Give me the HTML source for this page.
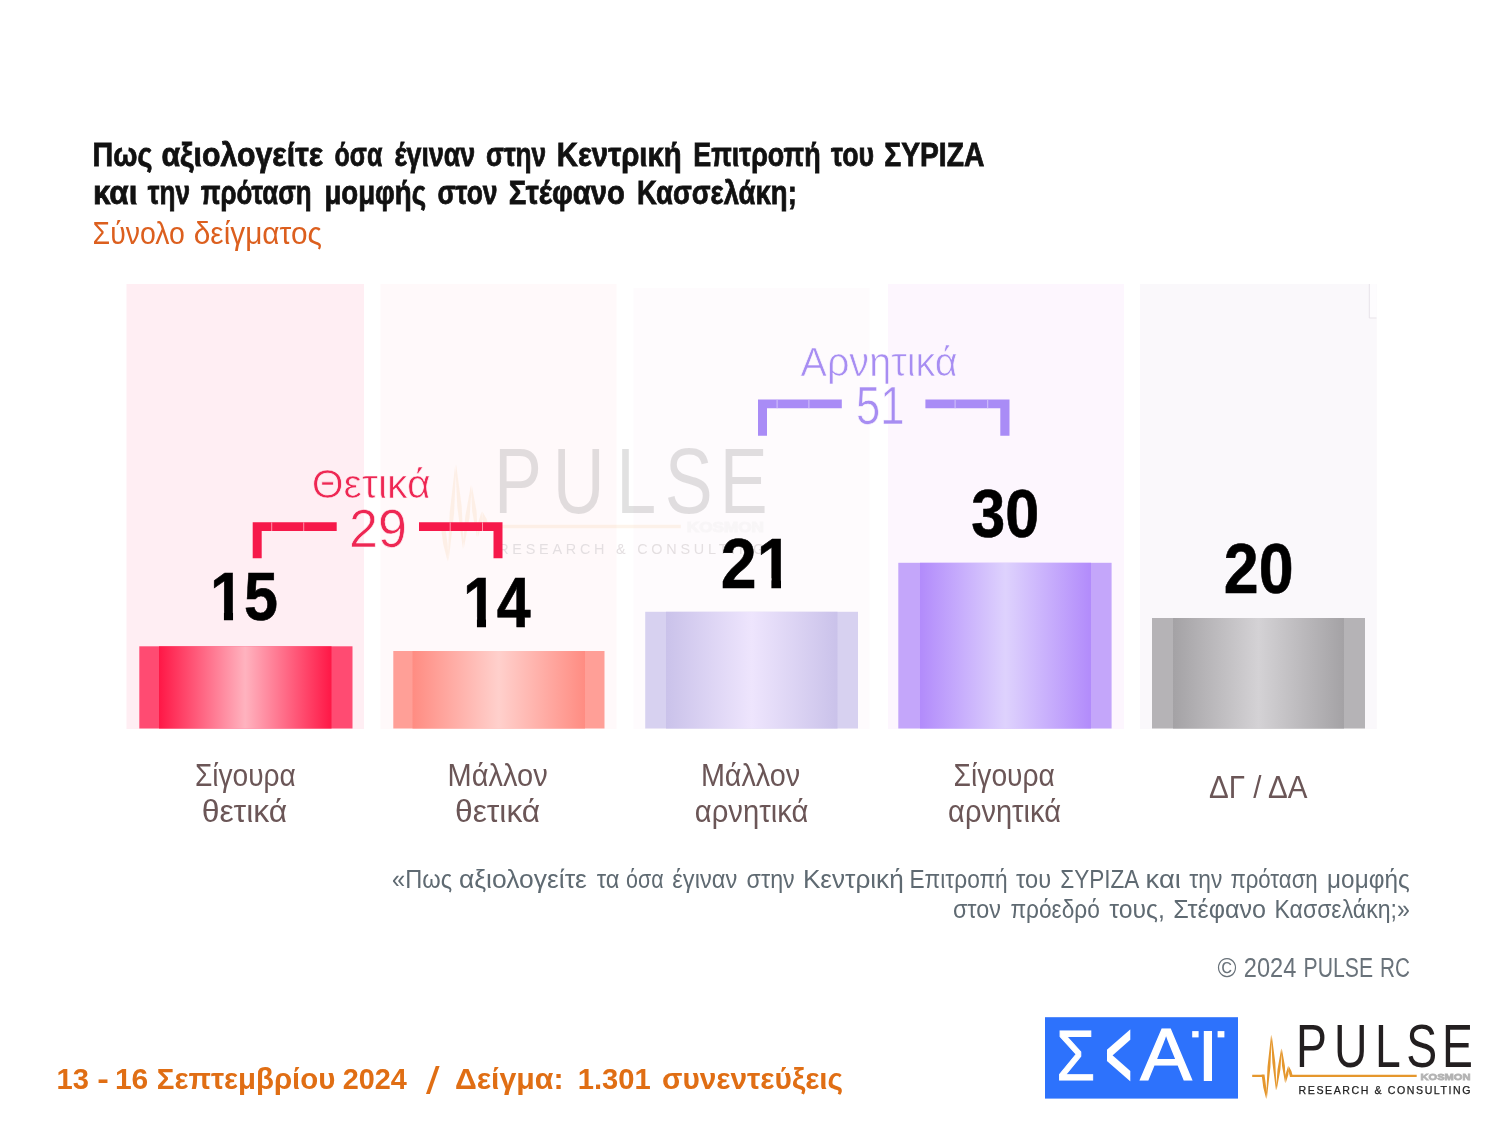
<!DOCTYPE html>
<html lang="el">
<head>
<meta charset="utf-8">
<title>PULSE RC – ΣΚΑΪ</title>
<style>
  html,body{margin:0;padding:0;background:#fff;}
  body{width:1500px;height:1125px;overflow:hidden;position:relative;}
  svg{position:absolute;left:0;top:0;display:block;}
  text{font-family:"Liberation Sans",sans-serif;}
</style>
</head>
<body>
<svg width="1500" height="1125" viewBox="0 0 1500 1125">
  <defs>
    <linearGradient id="g1" x1="0" x2="1" y1="0" y2="0">
      <stop offset="0" stop-color="#ff1746"/>
      <stop offset="0.5" stop-color="#ffb3bf"/>
      <stop offset="1" stop-color="#ff1746"/>
    </linearGradient>
    <linearGradient id="g2" x1="0" x2="1" y1="0" y2="0">
      <stop offset="0" stop-color="#ff8c82"/>
      <stop offset="0.5" stop-color="#ffd0cc"/>
      <stop offset="1" stop-color="#ff8c82"/>
    </linearGradient>
    <linearGradient id="g3" x1="0" x2="1" y1="0" y2="0">
      <stop offset="0" stop-color="#cac2ea"/>
      <stop offset="0.5" stop-color="#eee5fd"/>
      <stop offset="1" stop-color="#cac2ea"/>
    </linearGradient>
    <linearGradient id="g4" x1="0" x2="1" y1="0" y2="0">
      <stop offset="0" stop-color="#b28bfb"/>
      <stop offset="0.5" stop-color="#ded2fd"/>
      <stop offset="1" stop-color="#b28bfb"/>
    </linearGradient>
    <linearGradient id="g5" x1="0" x2="1" y1="0" y2="0">
      <stop offset="0" stop-color="#a4a2a5"/>
      <stop offset="0.5" stop-color="#d4d2d5"/>
      <stop offset="1" stop-color="#a4a2a5"/>
    </linearGradient>
  </defs>

  <!-- background panels -->
  <g id="panels">
    <rect x="126.5" y="284" width="237.5" height="445" fill="#ffeef3"/>
    <rect x="380.5" y="284" width="236" height="445" fill="#fff9fa"/>
    <rect x="633.5" y="288" width="236" height="441" fill="#fefbfd"/>
    <rect x="888" y="284" width="236" height="445" fill="#fdf6fe"/>
    <rect x="1140" y="284" width="236.8" height="445" fill="#faf8fb"/>
    <path d="M1369.3 284V318H1376.8V284Z" fill="#fdfcfe"/>
    <path d="M1369.3 284V318H1376.5" fill="none" stroke="#e7e3e9" stroke-width="1"/>
  </g>

  <!-- bars -->
  <g id="bars">
    <rect x="139.3" y="646.3" width="213.2" height="82.2" fill="#ff4b72"/>
    <rect x="159" y="646.3" width="172.5" height="82.2" fill="url(#g1)"/>
    <rect x="393.3" y="651" width="211.2" height="77.5" fill="#ff9f97"/>
    <rect x="412.5" y="651" width="172.5" height="77.5" fill="url(#g2)"/>
    <rect x="645.2" y="611.8" width="212.8" height="116.7" fill="#d7d1f0"/>
    <rect x="666" y="611.8" width="171.5" height="116.7" fill="url(#g3)"/>
    <rect x="898.3" y="562.8" width="213.3" height="165.7" fill="#c4a6fa"/>
    <rect x="920" y="562.8" width="171" height="165.7" fill="url(#g4)"/>
    <rect x="1152" y="618" width="213" height="110.5" fill="#b5b3b6"/>
    <rect x="1173" y="618" width="171" height="110.5" fill="url(#g5)"/>
  </g>

  <!-- watermark -->
  <g id="wm" opacity="0.13" transform="translate(-1513.7 -1103.4) scale(1.549 1.515)">
    <path d="M1261.6 1074.6L1264.5 1074.6L1266.2 1087.4L1266.8 1099.0L1266.2 1099.0L1263.3 1087.4ZM1266.2 1099.0L1266.8 1099.0L1270.4 1066.9L1271.7 1034.8L1271.1 1034.8L1267.5 1066.9ZM1271.1 1034.8L1271.7 1034.8L1275.3 1062.7L1276.6 1090.6L1276.0 1090.6L1272.4 1062.7ZM1276.0 1090.6L1276.6 1090.6L1280.4 1069.6L1281.8 1048.6L1281.2 1048.6L1277.5 1069.6ZM1281.2 1048.6L1281.8 1048.6L1284.9 1065.8L1285.7 1083.0L1285.1 1083.0L1282.0 1065.8ZM1285.1 1083.0L1285.7 1083.0L1288.4 1074.5L1288.7 1066.0L1288.1 1066.0L1285.5 1074.5ZM1288.1 1066.0L1288.7 1066.0L1291.4 1070.9L1293.0 1077.0L1290.0 1077.0L1288.5 1070.9ZM1252.2 1074.65H1264.4V1076.95H1252.2ZM1290.2 1074.65H1416.7V1076.95H1290.2Z" fill="#f2b36a"/>
    <text transform="scale(0.76,1)" x="1705.4 1755.4 1809.2 1850.4 1897.3" y="1066.7" font-size="61.0" fill="#231f20">PULSE</text>
    <text x="1420.6" y="1079.6" font-size="9.38" font-weight="700" fill="#d6d6d6" textLength="49.8" lengthAdjust="spacingAndGlyphs" stroke="#d6d6d6" stroke-width="0.8">KOSMON</text>
    
  </g>
  <text x="498.2" y="553.5" font-size="14.4" fill="#e4dfe1" textLength="266.1" lengthAdjust="spacing">RESEARCH &amp; CONSULTING</text>

  <!-- title -->
  <g id="title">
    <text y="166.0" font-size="33.3" font-weight="700" fill="#111" stroke="#111" stroke-width="0.8"><tspan x="92.6" textLength="59.8" lengthAdjust="spacingAndGlyphs">Πως</tspan> <tspan x="161.4" textLength="161.7" lengthAdjust="spacingAndGlyphs">αξιολογείτε</tspan> <tspan x="334.6" textLength="47.7" lengthAdjust="spacingAndGlyphs">όσα</tspan> <tspan x="394.5" textLength="80.6" lengthAdjust="spacingAndGlyphs">έγιναν</tspan> <tspan x="486.0" textLength="60.2" lengthAdjust="spacingAndGlyphs">στην</tspan> <tspan x="556.8" textLength="124.9" lengthAdjust="spacingAndGlyphs">Κεντρική</tspan> <tspan x="693.2" textLength="127.4" lengthAdjust="spacingAndGlyphs">Επιτροπή</tspan> <tspan x="831.1" textLength="43.0" lengthAdjust="spacingAndGlyphs">του</tspan> <tspan x="884.2" textLength="100.2" lengthAdjust="spacingAndGlyphs">ΣΥΡΙΖΑ</tspan></text>
    <text y="203.7" font-size="33.3" font-weight="700" fill="#111" stroke="#111" stroke-width="0.8"><tspan x="92.9" textLength="44.5" lengthAdjust="spacingAndGlyphs">και</tspan> <tspan x="147.8" textLength="42.1" lengthAdjust="spacingAndGlyphs">την</tspan> <tspan x="200.7" textLength="110.9" lengthAdjust="spacingAndGlyphs">πρόταση</tspan> <tspan x="324.4" textLength="101.7" lengthAdjust="spacingAndGlyphs">μομφής</tspan> <tspan x="437.5" textLength="60.0" lengthAdjust="spacingAndGlyphs">στον</tspan> <tspan x="508.7" textLength="116.2" lengthAdjust="spacingAndGlyphs">Στέφανο</tspan> <tspan x="636.9" textLength="159.9" lengthAdjust="spacingAndGlyphs">Κασσελάκη;</tspan></text>
    <text y="243.5" font-size="31" fill="#dc5f1e"><tspan x="92.6" textLength="92.3" lengthAdjust="spacingAndGlyphs">Σύνολο</tspan> <tspan x="193.8" textLength="128.0" lengthAdjust="spacingAndGlyphs">δείγματος</tspan></text>
  </g>

  <!-- value labels -->
  <g id="values">
    <text x="210.1" y="620.15" font-size="69.43" font-weight="700" fill="#000" textLength="67.9" lengthAdjust="spacingAndGlyphs" stroke="#000" stroke-width="0.6">15</text>
    <text x="462.9" y="626.7" font-size="70.94" font-weight="700" fill="#000" textLength="67.7" lengthAdjust="spacingAndGlyphs" stroke="#000" stroke-width="0.6">14</text>
    <text x="720.8" y="587.7" font-size="70.14" font-weight="700" fill="#000" textLength="71.7" lengthAdjust="spacingAndGlyphs" stroke="#000" stroke-width="0.6">21</text>
    <text x="971.2" y="536.95" font-size="69.09" font-weight="700" fill="#000" textLength="68.0" lengthAdjust="spacingAndGlyphs" stroke="#000" stroke-width="0.6">30</text>
    <text x="1223.8" y="593.25" font-size="69.93" font-weight="700" fill="#000" textLength="69.7" lengthAdjust="spacingAndGlyphs" stroke="#000" stroke-width="0.6">20</text>
  </g>

  <g id="digit-trim">
    <path id="nofoot0" d="M212.5 610.8H223.93V621.6H212.5ZM233.04 610.8H244.5V621.6H233.04Z" fill="#ffeef3"/>
    <path id="nofoot1" d="M465.5 617.1H476.94V628.2H465.5ZM486.02 617.1H496.5V628.2H486.02Z" fill="#fff9fa"/>
    <path id="nofoot2" d="M759.5 578.2H771.40V589.2H759.5ZM781.01 578.2H792.5V589.2H781.01Z" fill="#fefbfd"/>
  </g>

  <!-- group brackets -->
  <g id="pos" fill="#f6194a">
    <path d="M252.7 558.3V522.3H336.7V531H261.7V558.3Z"/>
    <path d="M502.5 558.3V522.3H419V531H493.5V558.3Z"/>
    <path d="M271.2 522.3h1v8.7h-1zM303.2 522.3h1v8.7h-1zM449.7 522.3h1v8.7h-1zM482 522.3h1v8.7h-1z" fill="#ff8fa8"/>
    <text x="311.7" y="498.3" font-size="40.5" fill="#ee2753" textLength="118.9" lengthAdjust="spacingAndGlyphs" stroke="#fff3f6" stroke-width="0.7">Θετικά</text>
    <text x="349.1" y="546.8" font-size="53.85" fill="#ee2753" textLength="57.8" lengthAdjust="spacingAndGlyphs" stroke="#fff3f6" stroke-width="0.7">29</text>
  </g>
  <g id="neg" fill="#a98cf6">
    <path d="M758 435.7V399.5H841.8V408.2H767V435.7Z"/>
    <path d="M1009.5 435.7V399.5H925.4V408.2H1000.3V435.7Z"/>
    <path d="M776.6 399.5h1v8.7h-1zM808.4 399.5h1v8.7h-1zM954.6 399.5h1v8.7h-1zM987.2 399.5h1v8.7h-1z" fill="#d3c4fb"/>
    <text x="800.5" y="376.0" font-size="40.5" fill="#a78df2" textLength="157.2" lengthAdjust="spacingAndGlyphs" stroke="#fdf9fe" stroke-width="0.7">Αρνητικά</text>
    <text x="856.1" y="424.0" font-size="53.57" fill="#a78df2" textLength="48.5" lengthAdjust="spacingAndGlyphs" stroke="#fdf9fe" stroke-width="0.7">51</text>
  </g>

  <!-- category labels -->
  <g id="cats">
    <text font-size="30.5" fill="#6b5657"><tspan x="194.9" y="785.6" textLength="101.0" lengthAdjust="spacingAndGlyphs">Σίγουρα</tspan> <tspan x="201.7" y="822.3" textLength="85.5" lengthAdjust="spacingAndGlyphs">θετικά</tspan></text>
    <text font-size="30.5" fill="#6b5657"><tspan x="447.6" y="785.6" textLength="100.1" lengthAdjust="spacingAndGlyphs">Μάλλον</tspan> <tspan x="455.1" y="822.3" textLength="85.1" lengthAdjust="spacingAndGlyphs">θετικά</tspan></text>
    <text font-size="30.5" fill="#6b5657"><tspan x="700.9" y="785.6" textLength="99.3" lengthAdjust="spacingAndGlyphs">Μάλλον</tspan> <tspan x="694.8" y="822.3" textLength="113.5" lengthAdjust="spacingAndGlyphs">αρνητικά</tspan></text>
    <text font-size="30.5" fill="#6b5657"><tspan x="953.6" y="785.6" textLength="101.3" lengthAdjust="spacingAndGlyphs">Σίγουρα</tspan> <tspan x="948.1" y="822.3" textLength="112.9" lengthAdjust="spacingAndGlyphs">αρνητικά</tspan></text>
    <text x="1209.1" y="797.5" font-size="31.5" fill="#6b5657" textLength="98.4" lengthAdjust="spacingAndGlyphs">ΔΓ / ΔΑ</text>
  </g>

  <!-- footnote -->
  <g id="note">
    <text y="887.5" font-size="25" fill="#5f6a72"><tspan x="392.1" textLength="60.0" lengthAdjust="spacingAndGlyphs">«Πως</tspan> <tspan x="458.9" textLength="128.0" lengthAdjust="spacingAndGlyphs">αξιολογείτε</tspan> <tspan x="596.8" textLength="22.7" lengthAdjust="spacingAndGlyphs">τα</tspan> <tspan x="626.1" textLength="37.5" lengthAdjust="spacingAndGlyphs">όσα</tspan> <tspan x="672.3" textLength="64.9" lengthAdjust="spacingAndGlyphs">έγιναν</tspan> <tspan x="746.6" textLength="48.1" lengthAdjust="spacingAndGlyphs">στην</tspan> <tspan x="802.9" textLength="100.8" lengthAdjust="spacingAndGlyphs">Κεντρική</tspan> <tspan x="909.5" textLength="98.2" lengthAdjust="spacingAndGlyphs">Επιτροπή</tspan> <tspan x="1016.1" textLength="35.0" lengthAdjust="spacingAndGlyphs">του</tspan> <tspan x="1060.2" textLength="78.0" lengthAdjust="spacingAndGlyphs">ΣΥΡΙΖΑ</tspan> <tspan x="1145.6" textLength="35.2" lengthAdjust="spacingAndGlyphs">και</tspan> <tspan x="1189.3" textLength="33.0" lengthAdjust="spacingAndGlyphs">την</tspan> <tspan x="1230.4" textLength="87.3" lengthAdjust="spacingAndGlyphs">πρόταση</tspan> <tspan x="1327.1" textLength="82.6" lengthAdjust="spacingAndGlyphs">μομφής</tspan></text>
    <text y="917.6" font-size="25" fill="#5f6a72"><tspan x="952.9" textLength="47.9" lengthAdjust="spacingAndGlyphs">στον</tspan> <tspan x="1010.4" textLength="89.4" lengthAdjust="spacingAndGlyphs">πρόεδρό</tspan> <tspan x="1109.2" textLength="55.6" lengthAdjust="spacingAndGlyphs">τους,</tspan> <tspan x="1173.2" textLength="92.9" lengthAdjust="spacingAndGlyphs">Στέφανο</tspan> <tspan x="1274.5" textLength="135.2" lengthAdjust="spacingAndGlyphs">Κασσελάκη;»</tspan></text>
    <text y="977" font-size="27" fill="#69727a"><tspan x="1217.4" textLength="19.0" lengthAdjust="spacingAndGlyphs">©</tspan> <tspan x="1243.8" textLength="52.5" lengthAdjust="spacingAndGlyphs">2024</tspan> <tspan x="1303.6" textLength="69.4" lengthAdjust="spacingAndGlyphs">PULSE</tspan> <tspan x="1380.0" textLength="29.9" lengthAdjust="spacingAndGlyphs">RC</tspan></text>
  </g>

  <!-- footer -->
  <g id="footer">
    <text font-size="29.4" font-weight="700" fill="#e06e14"><tspan x="56.6" y="1088.5" textLength="32.4" lengthAdjust="spacingAndGlyphs">13</tspan> <tspan x="97.2" y="1088.5" textLength="11.6" lengthAdjust="spacingAndGlyphs">-</tspan> <tspan x="114.9" y="1088.5" textLength="33.4" lengthAdjust="spacingAndGlyphs">16</tspan> <tspan x="156.8" y="1088.5" textLength="178.5" lengthAdjust="spacingAndGlyphs">Σεπτεμβρίου</tspan> <tspan x="342.8" y="1088.5" textLength="64.1" lengthAdjust="spacingAndGlyphs">2024</tspan> <tspan x="426.0" y="1093.5" textLength="13.6" lengthAdjust="spacingAndGlyphs" font-size="39.07" font-weight="400">/</tspan> <tspan x="454.9" y="1088.5" textLength="108.6" lengthAdjust="spacingAndGlyphs">Δείγμα:</tspan> <tspan x="577.8" y="1088.5" textLength="73.0" lengthAdjust="spacingAndGlyphs">1.301</tspan> <tspan x="662.0" y="1088.5" textLength="181.1" lengthAdjust="spacingAndGlyphs">συνεντεύξεις</tspan></text>
  </g>

  <!-- logos -->
  <g id="skai">
    <rect x="1045" y="1017.2" width="193" height="81.4" fill="#2d72fc"/>
    <text fill="#fff"><tspan x="1056.3" y="1080.3" textLength="38.9" lengthAdjust="spacingAndGlyphs" font-size="70.84" stroke="#fff" stroke-width="1">Σ</tspan> <tspan x="1105.4" y="1086.3" textLength="26.2" lengthAdjust="spacingAndGlyphs" font-size="92.46" stroke="#fff" stroke-width="3" stroke-linejoin="miter">&lt;</tspan> <tspan x="1140.3" y="1080.3" textLength="51.5" lengthAdjust="spacingAndGlyphs" font-size="73.45" stroke="#fff" stroke-width="1.2">Α</tspan> <tspan x="1195.8" y="1080.8" textLength="24.4" lengthAdjust="spacingAndGlyphs" font-size="72.29">Ι</tspan></text>
    <rect x="1192.2" y="1031.1" width="6.4" height="6.3" fill="#fff"/>
    <rect x="1217.6" y="1031.1" width="6.8" height="6.3" fill="#fff"/>
  </g>
  <g id="pulse">
    <path d="M1261.6 1074.6L1264.5 1074.6L1266.2 1087.4L1266.8 1099.0L1266.2 1099.0L1263.3 1087.4ZM1266.2 1099.0L1266.8 1099.0L1270.4 1066.9L1271.7 1034.8L1271.1 1034.8L1267.5 1066.9ZM1271.1 1034.8L1271.7 1034.8L1275.3 1062.7L1276.6 1090.6L1276.0 1090.6L1272.4 1062.7ZM1276.0 1090.6L1276.6 1090.6L1280.4 1069.6L1281.8 1048.6L1281.2 1048.6L1277.5 1069.6ZM1281.2 1048.6L1281.8 1048.6L1284.9 1065.8L1285.7 1083.0L1285.1 1083.0L1282.0 1065.8ZM1285.1 1083.0L1285.7 1083.0L1288.4 1074.5L1288.7 1066.0L1288.1 1066.0L1285.5 1074.5ZM1288.1 1066.0L1288.7 1066.0L1291.4 1070.9L1293.0 1077.0L1290.0 1077.0L1288.5 1070.9ZM1252.2 1074.65H1264.4V1076.95H1252.2ZM1290.2 1074.65H1416.7V1076.95H1290.2Z" fill="#e5972d"/>
    <text transform="scale(0.76,1)" x="1705.4 1755.4 1809.2 1850.4 1897.3" y="1066.7" font-size="61.0" fill="#231f20">PULSE</text>
    <text x="1420.6" y="1079.6" font-size="9.38" font-weight="700" fill="#b3b3b3" textLength="49.8" lengthAdjust="spacingAndGlyphs" stroke="#b3b3b3" stroke-width="0.8">KOSMON</text>
    <text x="1298.5" y="1093.6" font-size="10.6" fill="#222" textLength="172.1" lengthAdjust="spacing" stroke="#222" stroke-width="0.25">RESEARCH &amp; CONSULTING</text>
  </g>
</svg>
</body>
</html>
